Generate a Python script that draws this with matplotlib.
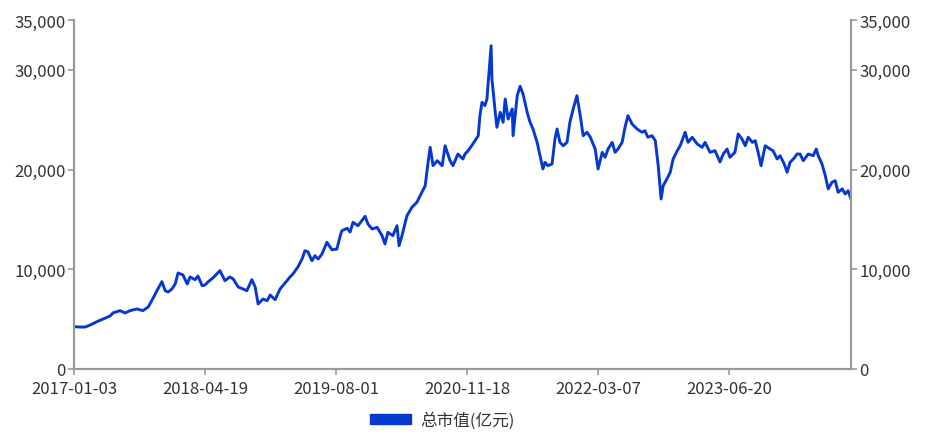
import matplotlib
matplotlib.use('Agg')
import matplotlib.pyplot as plt
from matplotlib.patches import Patch

plt.rcParams['font.family'] = ['Noto Sans CJK SC', 'DejaVu Sans']

# trading-day index of each reading (0 = 2017-01-03)
day_idx = [
    2, 14, 27, 39, 55, 70, 87, 94, 111, 123, 135, 152, 166, 179, 191, 200,
    212, 220, 227, 236, 244, 251, 263, 273, 280, 292, 299, 309, 316, 323,
    335, 352, 364, 376, 384, 396, 408, 417, 429, 437, 444, 456, 466, 473,
    485, 497, 509, 521, 528, 540, 550, 557, 564, 574, 581, 589, 598, 610,
    622, 634, 642, 646, 659, 666, 673, 685, 702, 709, 719, 731, 743, 750,
    757, 769, 779, 784, 791, 803, 815, 827, 839, 847, 854, 859, 866, 876,
    888, 895, 907, 914, 926, 938, 943, 950, 962, 975, 979, 984, 991, 996,
    999, 1006, 1008, 1016, 1020, 1028, 1035, 1040, 1047, 1057, 1059, 1069,
    1076, 1083, 1093, 1100, 1107, 1117, 1124, 1131, 1136, 1143, 1153, 1160,
    1165, 1172, 1180, 1189, 1196, 1204, 1213, 1221, 1228, 1237, 1245, 1257,
    1264, 1274, 1281, 1288, 1298, 1305, 1312, 1322, 1329, 1336, 1346, 1358,
    1370, 1377, 1384, 1394, 1402, 1409, 1416, 1421, 1430, 1438, 1445, 1455,
    1462, 1474, 1481, 1491, 1503, 1515, 1522, 1534, 1546, 1558, 1566, 1575,
    1582, 1594, 1602, 1611, 1619, 1626, 1636, 1643, 1650, 1657, 1667, 1679,
    1686, 1696, 1703, 1713, 1720, 1727, 1735, 1744, 1751, 1759, 1771, 1783,
    1790, 1795, 1804, 1812, 1819, 1828, 1836, 1843, 1853, 1860, 1867, 1874,
]

# 总市值 (亿元)
market_cap = [
    4240, 4210, 4210, 4410, 4740, 5010, 5320, 5620, 5850, 5620, 5850, 6020,
    5850, 6220, 7120, 7850, 8760, 7850, 7720, 8020, 8520, 9630, 9430, 8520,
    9230, 8960, 9330, 8350, 8420, 8730, 9130, 9860, 8860, 9230, 9030, 8220,
    8020, 7850, 8960, 8220, 6520, 7020, 6850, 7420, 6950, 8020, 8620, 9230,
    9530, 10230, 11030, 11860, 11760, 10860, 11360, 11030, 11530, 12710,
    11960, 12030, 13340, 13870, 14110, 13740, 14710, 14370, 15310, 14540,
    14040, 14210, 13370, 12540, 13710, 13370, 14370, 12370, 13370, 15370,
    16220, 16720, 17720, 18380, 20730, 22230, 20390, 20890, 20390, 22390,
    20890, 20390, 21560, 21060, 21560, 21860, 22570, 23400, 25400, 26750,
    26410, 27080, 28750, 32420, 29080, 25740, 24240, 25740, 24740, 27080,
    25070, 26080, 23400, 27410, 28350, 27580, 25740, 24740, 24070, 22730,
    21390, 20060, 20730, 20390, 20560, 23070, 24070, 22730, 22390, 22730,
    24740, 26080, 27410, 25400, 23400, 23740, 23270, 22060, 20060, 21730,
    21230, 22060, 22730, 21730, 22060, 22730, 24240, 25400, 24570, 24070,
    23740, 23900, 23240, 23400, 22900, 20390, 17050, 18380, 19060, 19730,
    21060, 21890, 22390, 23740, 22730, 23240, 22570, 22230, 22730, 21730,
    21890, 20760, 21560, 22060, 21230, 21730, 23570, 23070, 22390, 23240,
    22730, 22900, 21730, 20390, 22390, 22060, 21890, 21060, 21390, 20560,
    19730, 20730, 21060, 21560, 21560, 20890, 21560, 21390, 22060, 21390,
    20560, 19390, 18060, 18720, 18880, 17720, 18060, 17550, 17880, 17050,
]

n_days = 1875
tick_step = 316
tick_labels = ['2017-01-03', '2018-04-19', '2019-08-01',
               '2020-11-18', '2022-03-07', '2023-06-20']
y_ticks = [0, 10000, 20000, 30000, 35000]

line_color = '#0639cf'
axis_color = '#999999'
text_color = '#333333'

fig = plt.figure(figsize=(9.33, 4.39), dpi=100)
ax = fig.add_axes([74 / 933, 1 - 370 / 439, 777 / 933, 349 / 439])

ax.plot(day_idx, market_cap, color=line_color, linewidth=2.1,
        solid_joinstyle='round')

ax.set_xlim(0, n_days - 1)
ax.set_ylim(0, 35000)
ax.set_xticks([i * tick_step for i in range(len(tick_labels))])
ax.set_xticklabels(tick_labels)
ax.set_yticks(y_ticks)
ax.set_yticklabels([f'{v:,}' for v in y_ticks])

ax2 = ax.twinx()
ax2.set_ylim(0, 35000)
ax2.set_yticks(y_ticks)
ax2.set_yticklabels([f'{v:,}' for v in y_ticks])

for a in (ax, ax2):
    a.spines['top'].set_visible(False)
    for s in ('left', 'right', 'bottom'):
        a.spines[s].set_color(axis_color)
        a.spines[s].set_linewidth(1.5)
    a.tick_params(colors=axis_color, labelcolor=text_color, labelsize=12,
                  length=4, width=1.2, pad=2)
ax.tick_params(axis='x', pad=4)

fig.legend(handles=[Patch(color=line_color, label='总市值(亿元)')],
           loc='center', bbox_to_anchor=(442 / 933, 1 - 421 / 439),
           frameon=False, fontsize=12, handlelength=2.5, handleheight=0.55,
           handletextpad=0.5, labelcolor=text_color)

fig.savefig('out.png', dpi=100, facecolor='white')
